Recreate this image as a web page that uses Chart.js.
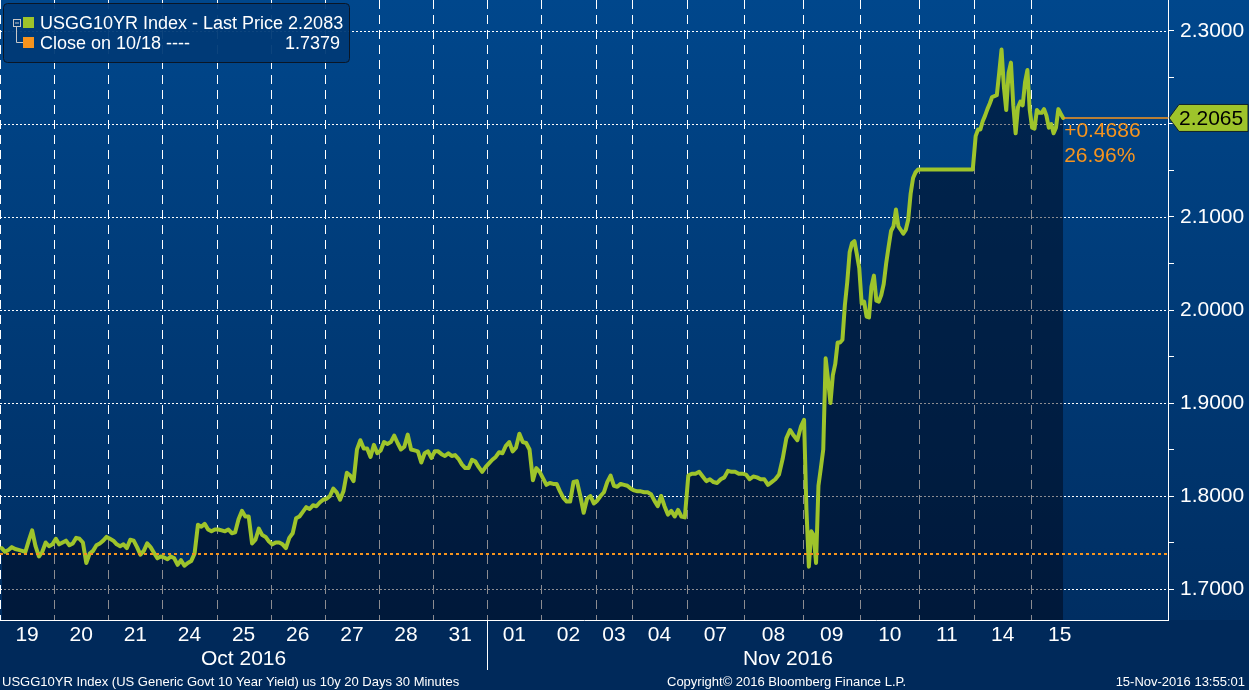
<!DOCTYPE html>
<html>
<head>
<meta charset="utf-8">
<script src="https://cdn.jsdelivr.net/npm/chart.js@4"></script>
<style>
html,body{margin:0;padding:0;background:#00295a;}
canvas{display:block;}
</style>
</head>
<body>
<canvas id="c" width="1249" height="690"></canvas>
<script>
const FONT = "'Liberation Sans', Arial, sans-serif";

// ---- categories / ticks ----
const dayLabels = ['19','20','21','24','25','26','27','28','31','01','02','03','04','07','08','09','10','11','14','15'];
const dayMonthIndex = [0,0,0,0,0,0,0,0,0,1,1,1,1,1,1,1,1,1,1,1];
const monthLabels = ['Oct 2016', 'Nov 2016'];
// number of 30-minute bars in each trading day
const dayBars = [47,47,47,47,47,47,47,47,47,47,47,32,47,50,51,50,51,48,49,50];
const lastDayElapsedBars = 29;
const axisEndBars = 1014;
const yMin = 1.66667, yMax = 2.33333, yStep = 0.05;

// ---- series values (USGG10YR, 30-min) ----
const oct19 = [1.744,1.740,1.742,1.745,1.743,1.742,1.741,1.740,1.752,1.763,1.746,1.735,1.740,1.750,1.746,1.748];
const oct20 = [1.754,1.748,1.750,1.752,1.747,1.749,1.755,1.754,1.750,1.728,1.738,1.741,1.747,1.749,1.752,1.756];
const oct21 = [1.754,1.752,1.748,1.746,1.748,1.744,1.753,1.752,1.745,1.737,1.741,1.749,1.745,1.739,1.733,1.735];
const oct24 = [1.734,1.732,1.735,1.733,1.726,1.731,1.725,1.728,1.730,1.738,1.769,1.767,1.770,1.764,1.762,1.764];
const oct25 = [1.764,1.763,1.762,1.764,1.760,1.761,1.775,1.784,1.778,1.778,1.749,1.753,1.765,1.758,1.756,1.751];
const oct26 = [1.748,1.750,1.750,1.748,1.744,1.755,1.760,1.776,1.778,1.783,1.788,1.786,1.790,1.789,1.793,1.796];
const oct27 = [1.797,1.800,1.808,1.804,1.796,1.805,1.825,1.822,1.816,1.850,1.860,1.851,1.851,1.842,1.855,1.846];
const oct28 = [1.849,1.858,1.856,1.858,1.865,1.857,1.850,1.853,1.866,1.850,1.849,1.848,1.836,1.846,1.848,1.841];
const oct31 = [1.848,1.848,1.845,1.843,1.846,1.843,1.844,1.840,1.834,1.830,1.830,1.839,1.837,1.831,1.826,1.831];
const nov01 = [1.835,1.839,1.842,1.847,1.846,1.854,1.858,1.848,1.852,1.867,1.858,1.857,1.850,1.817,1.830,1.826];
const nov02 = [1.819,1.812,1.814,1.813,1.813,1.805,1.798,1.794,1.794,1.815,1.816,1.800,1.782,1.797,1.800,1.792];
const nov03 = [1.795,1.800,1.804,1.815,1.822,1.811,1.810,1.813,1.812,1.811,1.808];
const nov04 = [1.806,1.805,1.805,1.804,1.804,1.802,1.795,1.789,1.800,1.789,1.780,1.784,1.778,1.785,1.778,1.777];
const nov07 = [1.822,1.824,1.824,1.826,1.821,1.816,1.818,1.815,1.814,1.818,1.820,1.827,1.826,1.826,1.824,1.824];
const nov08 = [1.823,1.818,1.821,1.820,1.818,1.818,1.812,1.815,1.818,1.823,1.840,1.862,1.871,1.865,1.860,1.875];
const nov09 = [1.882,1.785,1.724,1.762,1.758,1.728,1.811,1.830,1.850,1.948,1.925,1.900,1.930,1.942,1.965,1.965,1.968,2.005,2.030,2.062,2.072,2.074,2.060,2.045];
const nov10 = [2.007,2.009,1.993,1.992,2.025,2.037,2.010,2.009,2.016,2.028,2.050,2.068,2.085,2.090,2.108,2.090,2.086,2.082,2.086,2.097,2.125,2.142,2.148,2.151];
const nov11 = [2.151,2.151,2.151,2.151,2.151,2.151,2.151,2.151,2.151,2.151,2.151,2.151,2.151,2.151,2.151,2.151];
const nov14 = [2.187,2.194,2.194,2.203,2.209,2.216,2.222,2.229,2.230,2.231,2.255,2.280,2.240,2.215,2.255,2.266,2.220,2.190,2.218,2.224,2.220,2.245,2.258,2.215];
const nov15 = [2.196,2.195,2.215,2.212,2.212,2.216,2.209,2.196,2.200,2.190,2.196,2.216,2.211,2.2065];
const dayValues = [oct19,oct20,oct21,oct24,oct25,oct26,oct27,oct28,oct31,nov01,nov02,nov03,nov04,nov07,nov08,nov09,nov10,nov11,nov14,nov15];

// ---- reference values / texts ----
const closeRef = 1.7379;
const lastTagText = '2.2065';
const changeAbs = '+0.4686';
const changePct = '26.96%';
const legendLine1 = 'USGG10YR Index - Last Price 2.2083';
const legendLine2 = 'Close on 10/18 ----';
const legendValue2 = '1.7379';
const footerLeft = 'USGG10YR Index (US Generic Govt 10 Year Yield) us 10y 20 Days 30 Minutes';
const footerMid = 'Copyright\u00A9 2016 Bloomberg Finance L.P.';
const footerRight = '15-Nov-2016 13:55:01';

const GREEN = '#9ec42b', ORANGE = '#f7941d';

// ---- build points ----
const points = [];
const dayStarts = [];
let cum = 0;
dayBars.forEach((b, d) => {
  dayStarts.push(cum);
  const vals = dayValues[d];
  const span = d === dayBars.length - 1 ? lastDayElapsedBars : b;
  vals.forEach((v, i) => points.push({x: cum + (i + 0.5) * span / vals.length, y: v}));
  cum += b;
});
const lastPoint = points[points.length - 1];

const isMajor = v => Math.abs(v * 10 - Math.round(v * 10)) < 1e-6;

function line(ctx, x1, y1, x2, y2) { ctx.beginPath(); ctx.moveTo(x1, y1); ctx.lineTo(x2, y2); ctx.stroke(); }

const bgPlugin = {
  id: 'bg',
  beforeDraw(chart) {
    const {ctx, chartArea: a, width, height} = chart;
    ctx.save();
    const g = ctx.createLinearGradient(0, 0, 0, a.bottom);
    g.addColorStop(0, '#00478c');
    g.addColorStop(1, '#002e62');
    ctx.fillStyle = g;
    ctx.fillRect(0, 0, width, a.bottom);
    ctx.fillStyle = '#00295a';
    ctx.fillRect(0, a.bottom, width, height - a.bottom);
    ctx.restore();
  }
};

const gridPlugin = {
  id: 'grid',
  beforeDatasetsDraw(chart) {
    const {ctx, chartArea: a, scales: {x, y}} = chart;
    ctx.save();
    ctx.strokeStyle = '#ffffff';
    ctx.lineWidth = 1;
    ctx.setLineDash([2, 2]);
    y.ticks.forEach(t => {
      if (!isMajor(t.value)) return;
      const py = Math.round(y.getPixelForValue(t.value)) + 0.5;
      line(ctx, a.left, py, a.right, py);
    });
    ctx.setLineDash([9, 6]);
    x.ticks.forEach(t => {
      const px = Math.round(x.getPixelForValue(t.value)) + 0.5;
      line(ctx, px, a.top, px, a.bottom);
    });
    ctx.restore();
  }
};

const overlayPlugin = {
  id: 'overlay',
  afterDatasetsDraw(chart) {
    const {ctx, chartArea: a, scales: {x, y}, width, height} = chart;
    ctx.save();
    // close reference dotted line
    const ry = Math.round(y.getPixelForValue(closeRef));
    ctx.strokeStyle = ORANGE; ctx.lineWidth = 2; ctx.setLineDash([3, 3]);
    line(ctx, a.left, ry, a.right, ry);
    ctx.setLineDash([]);
    // last price line
    const lx = x.getPixelForValue(lastPoint.x);
    const ly = y.getPixelForValue(lastPoint.y);
    ctx.lineWidth = 1.5;
    line(ctx, lx, ly, a.right, ly);
    // change texts
    ctx.fillStyle = ORANGE;
    ctx.font = '21px ' + FONT;
    ctx.textAlign = 'left'; ctx.textBaseline = 'middle';
    ctx.fillText(changeAbs, lx + 1, ly + 13);
    ctx.fillText(changePct, lx + 1, ly + 38);
    // price tag
    ctx.beginPath();
    ctx.moveTo(a.right + 1, ly);
    ctx.lineTo(a.right + 11, ly - 13.5);
    ctx.lineTo(width - 1, ly - 13.5);
    ctx.lineTo(width - 1, ly + 13.5);
    ctx.lineTo(a.right + 11, ly + 13.5);
    ctx.closePath();
    ctx.fillStyle = GREEN; ctx.fill();
    ctx.strokeStyle = '#10202a'; ctx.lineWidth = 1; ctx.stroke();
    ctx.fillStyle = '#000000';
    ctx.fillText(lastTagText, a.right + 11, ly + 1);

    // legend box
    ctx.beginPath();
    ctx.roundRect(3.5, 3.5, 346, 59, 4);
    ctx.fillStyle = 'rgba(0,58,118,0.95)'; ctx.fill();
    ctx.strokeStyle = '#0a1626'; ctx.stroke();
    ctx.strokeStyle = '#c8c8c8'; ctx.lineWidth = 1;
    ctx.strokeRect(13.5, 19.5, 7, 7);
    line(ctx, 15, 23, 19, 23);
    line(ctx, 16.5, 27, 16.5, 42.5);
    line(ctx, 16.5, 42.5, 23, 42.5);
    ctx.fillStyle = GREEN; ctx.fillRect(23, 17, 11, 11);
    ctx.fillStyle = ORANGE; ctx.fillRect(23, 37, 11, 11);
    ctx.fillStyle = '#ffffff';
    ctx.font = '18px ' + FONT;
    ctx.textBaseline = 'alphabetic';
    ctx.textAlign = 'left';
    ctx.fillText(legendLine1, 40, 29);
    ctx.fillText(legendLine2, 40, 49);
    ctx.textAlign = 'right';
    ctx.fillText(legendValue2, 340, 49);

    // x-axis day labels
    ctx.font = '21px ' + FONT;
    ctx.textAlign = 'center'; ctx.textBaseline = 'middle';
    dayLabels.forEach((lab, d) => {
      const cx = x.getPixelForValue(dayStarts[d] + dayBars[d] / 2);
      ctx.fillText(lab, cx, a.bottom + 15);
    });
    // month labels and separator
    monthLabels.forEach((m, mi) => {
      const idx = dayMonthIndex.map((v, i) => v === mi ? i : -1).filter(i => i >= 0);
      const s = dayStarts[idx[0]];
      const e = dayStarts[idx[idx.length - 1]] + dayBars[idx[idx.length - 1]];
      ctx.fillText(m, (x.getPixelForValue(s) + x.getPixelForValue(e)) / 2, a.bottom + 39);
      if (mi > 0) {
        const sx = Math.round(x.getPixelForValue(s)) + 0.5;
        ctx.strokeStyle = '#ffffff';
        line(ctx, sx, a.bottom, sx, a.bottom + 50);
      }
    });
    // footer
    ctx.font = '13px ' + FONT;
    ctx.textBaseline = 'alphabetic';
    ctx.textAlign = 'left';
    ctx.fillText(footerLeft, 2, height - 4);
    ctx.fillText(footerMid, 667, height - 4);
    ctx.textAlign = 'right';
    ctx.fillText(footerRight, width - 4, height - 4);
    ctx.restore();
  }
};

new Chart(document.getElementById('c'), {
  type: 'line',
  data: {
    datasets: [{
      data: points,
      borderColor: GREEN,
      borderWidth: 4,
      borderJoinStyle: 'round',
      borderCapStyle: 'round',
      pointRadius: 0,
      tension: 0,
      fill: 'start',
      backgroundColor: 'rgba(0,0,10,0.45)'
    }]
  },
  options: {
    responsive: false,
    animation: false,
    devicePixelRatio: 1,
    events: [],
    layout: {padding: 0},
    plugins: {legend: {display: false}, tooltip: {enabled: false}},
    scales: {
      x: {
        type: 'linear', position: 'bottom', min: 0, max: axisEndBars,
        afterBuildTicks: s => { s.ticks = dayStarts.map(v => ({value: v})); },
        afterFit: s => { s.height = 70; s.paddingLeft = 0; s.paddingRight = 0; },
        ticks: {display: false},
        grid: {display: false},
        border: {display: true, color: '#ffffff', width: 1}
      },
      y: {
        type: 'linear', position: 'right', min: yMin, max: yMax,
        afterFit: s => { s.width = 81; s.paddingTop = 0; s.paddingBottom = 0; },
        ticks: {
          stepSize: yStep, includeBounds: false, autoSkip: false,
          color: '#ffffff', padding: 6,
          font: {family: FONT, size: 21},
          callback: v => isMajor(v) ? v.toFixed(4) : ''
        },
        grid: {drawOnChartArea: false, drawTicks: true, tickLength: 6, tickColor: '#ffffff', color: '#ffffff', tickWidth: 1},
        border: {display: true, color: '#ffffff', width: 1}
      }
    }
  },
  plugins: [bgPlugin, gridPlugin, overlayPlugin]
});
</script>
</body>
</html>
